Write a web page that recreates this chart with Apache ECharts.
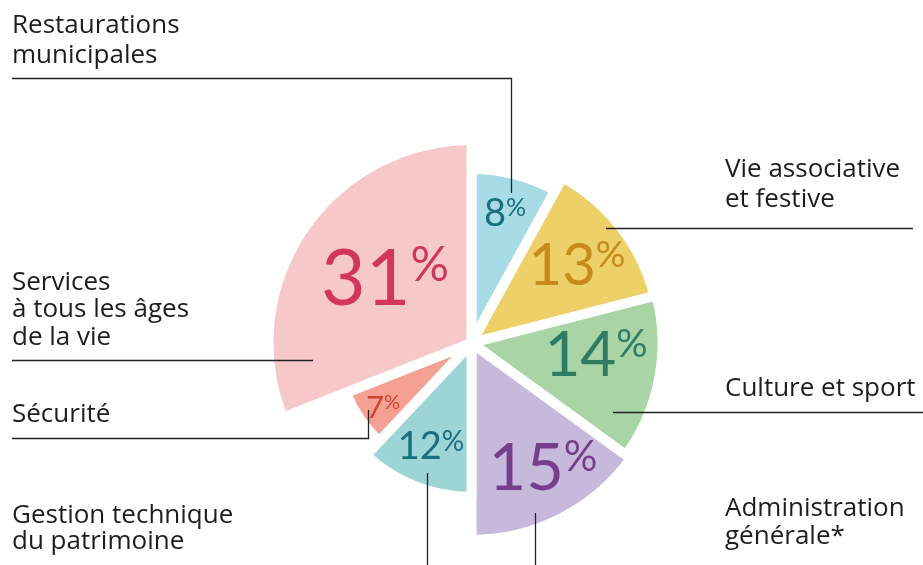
<!DOCTYPE html>
<html>
<head>
<meta charset="utf-8">
<title>Répartition</title>
<script src="https://cdn.jsdelivr.net/npm/echarts@6/dist/echarts.min.js"></script>
<style>
  html, body { margin: 0; padding: 0; background: #fff; }
  #chart { width: 923px; height: 565px; }
</style>
</head>
<body>
<div id="chart"></div>
<script>
  // données
  const categories = [
    'Restaurations\nmunicipales',
    'Vie associative\net festive',
    'Culture et sport',
    'Administration\ngénérale*',
    'Gestion technique\ndu patrimoine',
    'Sécurité',
    'Services\nà tous les âges\nde la vie'
  ]
  const shares = [8, 13, 14, 15, 12, 7, 31]

  // styles et mise en page
  const fills = ['#a7dbe6', '#edd068', '#a9d4a6', '#c7b9dc', '#9dd4d6', '#f4a193', '#f6c8c9']
  const inks = ['#1b6e7e', '#c98a1d', '#2d7c63', '#773f8b', '#1b6e7e', '#d2432f', '#d1365b']
  const radii = [174, 189, 191, 197, 154, 135, 203]
  const numSize = [38, 58, 62, 65, 38, 31, 77]
  const pctSize = [25, 37, 39, 42, 28, 20, 48]
  const pctPos = [[505, 214], [577, 266], [596, 356], [543, 469], [431, 447], [383, 408], [385, 280]]
  const namePos = [[12, 10.9], [725, 154.2], [725, 374.2], [725, 494.2], [12, 502.9], [12, 400.9], [12, 268.5]]
  const nameLH = [30, 30, 28, 28, 26, 28, 27.5]
  const leaders = [
    [[12, 78.5], [511.5, 78.5], [511.5, 193]],
    [[913, 228.5], [760, 228.5], [606, 228.5]],
    [[923, 412.5], [760, 412.5], [613, 412.5]],
    [[535.5, 565], [535.5, 540], [535.5, 513]],
    [[427.5, 565], [427.5, 520], [427.5, 473]],
    [[12, 438.5], [368.5, 438.5], [368.5, 410]],
    [[12, 360.5], [160, 360.5], [313, 360.5]]
  ]
  const center = [471.5, 343]

  const chart = echarts.init(document.getElementById('chart'))

  // une série par part, pour avoir un rayon différent à chaque part
  const sliceSeries = shares.map((v, i) => ({
    type: 'pie',
    z: 2,
    center: center,
    radius: [0, radii[i]],
    startAngle: 90,
    clockwise: true,
    silent: true,
    animation: false,
    avoidLabelOverlap: false,
    label: { show: false },
    labelLine: { show: false },
    emphasis: { disabled: true },
    data: shares.map((s, j) => j === i ? {
      value: s,
      name: categories[j],
      itemStyle: { color: fills[j], borderColor: '#fff', borderWidth: 10, borderJoin: 'round' },
      label: {
        show: true,
        position: 'inside',
        formatter: '{n|' + s + '}{p|%}',
        rich: {
          n: { fontFamily: 'Lato', fontSize: numSize[j], lineHeight: numSize[j], color: inks[j] },
          p: { fontFamily: 'Lato', fontSize: pctSize[j], lineHeight: pctSize[j], color: inks[j], verticalAlign: 'top' }
        }
      }
    } : {
      value: s,
      name: categories[j],
      itemStyle: { color: 'rgba(0,0,0,0)', borderWidth: 0 }
    }),
    labelLayout: p => p.dataIndex === i
      ? { x: pctPos[i][0], y: pctPos[i][1], align: 'center', verticalAlign: 'middle' }
      : null
  }))

  // libellés extérieurs et traits de rappel
  const nameSeries = {
    type: 'pie',
    z: 10,
    center: center,
    radius: [0, 40],
    startAngle: 90,
    clockwise: true,
    silent: true,
    animation: false,
    avoidLabelOverlap: false,
    itemStyle: { color: 'rgba(0,0,0,0)' },
    emphasis: { disabled: true },
    label: {
      show: true,
      position: 'outside',
      formatter: '{b}',
      color: '#1d1d1b',
      fontFamily: 'Open Sans',
      fontSize: 26
    },
    labelLine: { show: true, lineStyle: { color: '#222', width: 1.3 } },
    data: shares.map((s, j) => ({ value: s, name: categories[j], label: { lineHeight: nameLH[j] } })),
    labelLayout: p => ({
      x: namePos[p.dataIndex][0],
      y: namePos[p.dataIndex][1],
      align: 'left',
      verticalAlign: 'top',
      labelLinePoints: leaders[p.dataIndex]
    })
  }

  chart.setOption({
    backgroundColor: '#fff',
    series: sliceSeries.concat([nameSeries])
  })
</script>
</body>
</html>
